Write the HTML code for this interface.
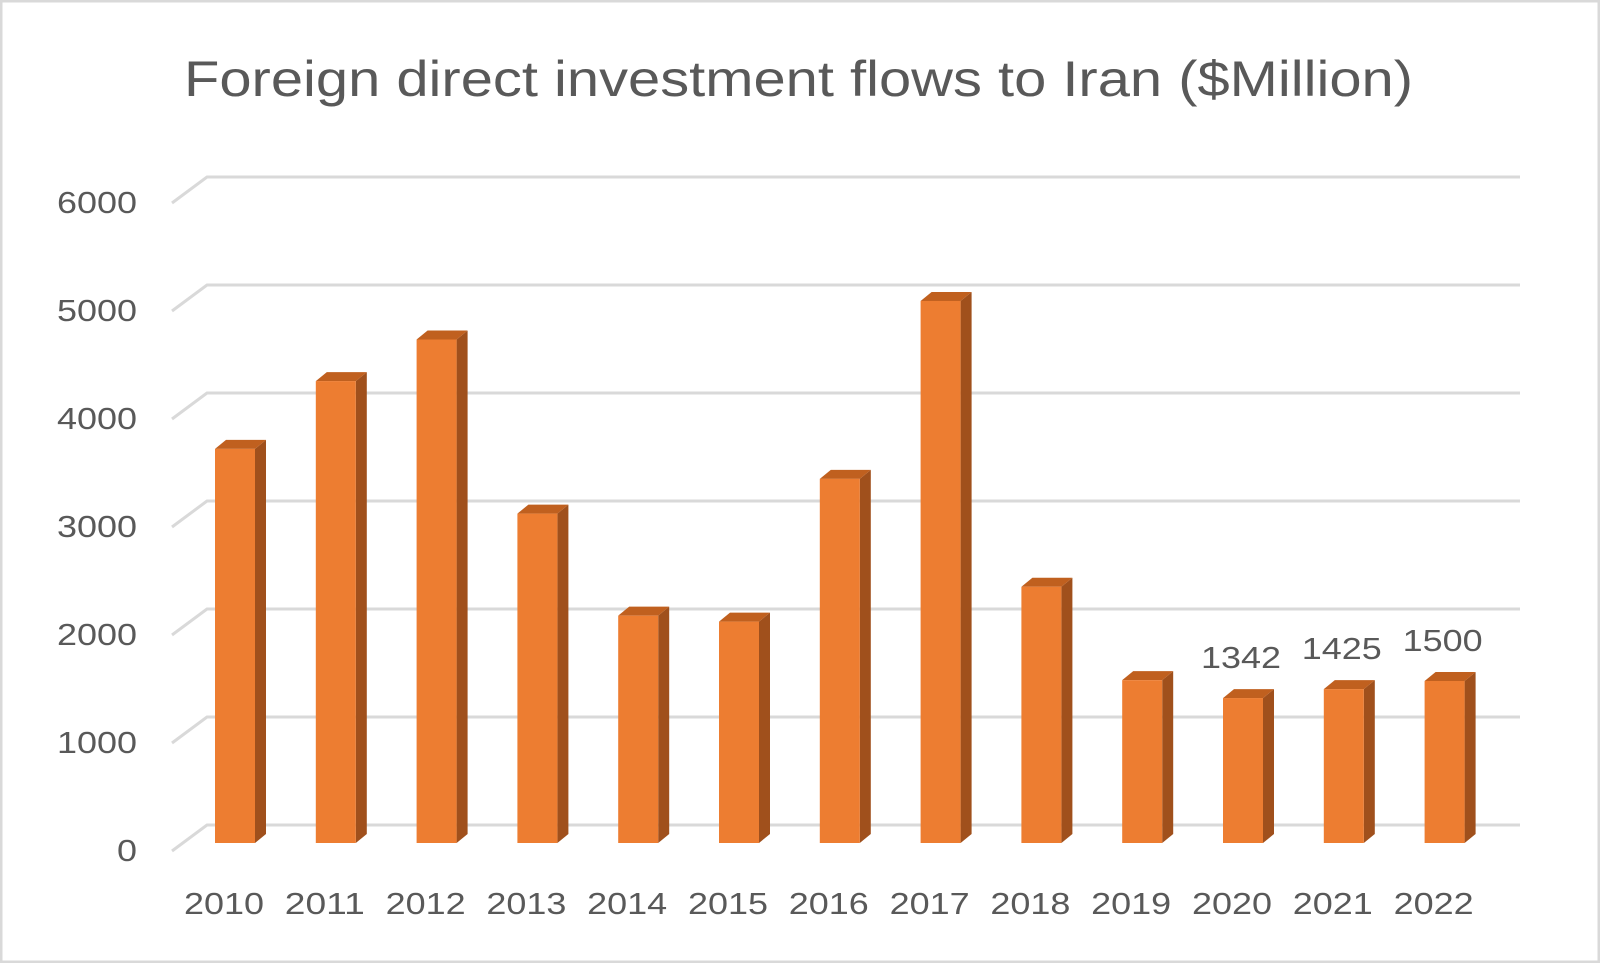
<!DOCTYPE html>
<html><head><style>
html,body{margin:0;padding:0;background:#fff}
svg{display:block}
text{font-family:"Liberation Sans",sans-serif;fill:#595959}
</style></head><body>
<svg width="1600" height="963" viewBox="0 0 1600 963" xmlns="http://www.w3.org/2000/svg">
<rect x="1" y="1" width="1598" height="961" fill="#fff" stroke="#d9d9d9" stroke-width="3"/>
<text x="184" y="96" font-size="50" textLength="1229" lengthAdjust="spacingAndGlyphs">Foreign direct investment flows to Iran ($Million)</text>
<g stroke="#d9d9d9" stroke-width="3" fill="none" id="grid"></g>
<g id="bars"></g>
<g id="lbl"></g>
<script>
const ns="http://www.w3.org/2000/svg";
function el(p,t,a,txt){const e=document.createElementNS(ns,t);for(const k in a)e.setAttribute(k,a[k]);if(txt)e.textContent=txt;document.getElementById(p).appendChild(e);}
const base=825, s=0.108;
for(let i=0;i<=6;i++){const y=base-i*108;
 el('grid','polyline',{points:`172,${y+26} 207,${y} 1520,${y}`});
 const str=String(i*1000), w=str.length*20;
 el('lbl','text',{x:137-w,y:y+36,'font-size':31,textLength:w,lengthAdjust:'spacingAndGlyphs'},str);}
const vals=[3649,4277,4662,3050,2105,2050,3372,5019,2373,1508,1342,1425,1500];
vals.forEach((v,i)=>{const x=215+i*100.8,w=40,b=843,t=b-v*s,dx=11,dy=9;
 el('bars','polygon',{points:`${x+w},${t} ${x+w+dx},${t-dy} ${x+w+dx},${b-dy} ${x+w},${b}`,fill:'#a0501c'});
 el('bars','polygon',{points:`${x},${t} ${x+dx},${t-dy} ${x+w+dx},${t-dy} ${x+w},${t}`,fill:'#c0601f'});
 el('bars','rect',{x:x,y:t,width:w,height:b-t,fill:'#ed7d31'});
 el('lbl','text',{x:x+w/2-11-40,y:914,'font-size':31,textLength:80,lengthAdjust:'spacingAndGlyphs'},String(2010+i));
 if(i>=10)el('lbl','text',{x:x+w/2-2-40,y:t-30,'font-size':31,textLength:80,lengthAdjust:'spacingAndGlyphs'},String(v));
});
</script>
</svg>
</body></html>
